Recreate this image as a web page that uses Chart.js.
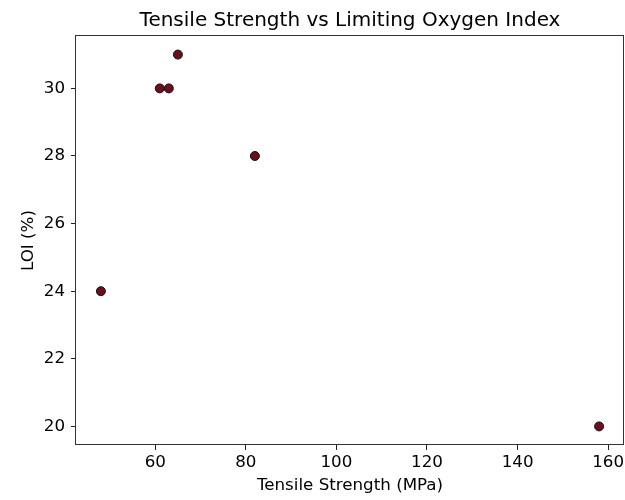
<!DOCTYPE html>
<html>
<head>
<meta charset="utf-8">
<script src="https://cdn.jsdelivr.net/npm/chart.js@4/dist/chart.umd.min.js"></script>
<style>
  html, body { margin: 0; padding: 0; background: #fff; }
  #wrap { width: 625px; height: 500px; position: relative; }
</style>
</head>
<body>
<div id="wrap"><canvas id="c" width="625" height="500"></canvas></div>
<script>
const tensileStrength = [48, 61, 63, 65, 82, 158];
const loiValues = [24, 30, 30, 31, 28, 20];
const xTicks = [60, 80, 100, 120, 140, 160];
const yTicks = [20, 22, 24, 26, 28, 30];

const points = tensileStrength.map((x, i) => ({ x: x, y: loiValues[i] }));

const FONT = "'DejaVu Sans', sans-serif";

const frame = {
  id: 'frame',
  afterDatasetsDraw(chart) {
    const a = chart.chartArea, ctx = chart.ctx;
    ctx.save();
    ctx.strokeStyle = '#333';
    ctx.lineWidth = 1;
    const l = Math.round(a.left) - 0.5, t = Math.round(a.top) - 0.5;
    const r = Math.round(a.right) - 0.5, b = Math.round(a.bottom) - 0.5;
    ctx.strokeRect(l, t, r - l, b - t);
    ctx.restore();
  }
};

new Chart(document.getElementById('c'), {
  type: 'scatter',
  data: {
    datasets: [{
      data: points,
      backgroundColor: '#6b0f1c',
      borderColor: '#111',
      borderWidth: 1,
      pointRadius: 4.5,
      pointHoverRadius: 4.5
    }]
  },
  options: {
    responsive: false,
    animation: false,
    events: [],
    layout: { autoPadding: false, padding: { left: 0, right: 1, top: 0, bottom: 0 } },
    plugins: {
      legend: { display: false },
      tooltip: { enabled: false },
      title: {
        display: true,
        fullSize: false,
        text: 'Tensile Strength vs Limiting Oxygen Index',
        color: '#000',
        font: { family: FONT, size: 20, weight: 'normal', lineHeight: 1.2 },
        padding: { top: 9, bottom: 3 }
      }
    },
    scales: {
      x: {
        type: 'linear',
        min: 42.5,
        max: 163.5,
        afterBuildTicks: s => { s.ticks = xTicks.map(v => ({ value: v })); },
        afterFit: s => { s.height = 55; s.paddingLeft = 0; s.paddingRight = 0; },
        grid: { display: true, drawOnChartArea: false, drawTicks: true, tickLength: 5, color: '#222' },
        border: { display: false },
        ticks: { color: '#000', font: { family: FONT, size: 16.7 }, padding: 3, maxRotation: 0 },
        title: { display: true, text: 'Tensile Strength (MPa)', color: '#000',
                 font: { family: FONT, size: 16.7 }, padding: { top: 2, bottom: 4 } }
      },
      y: {
        type: 'linear',
        min: 19.45,
        max: 31.55,
        afterBuildTicks: s => { s.ticks = yTicks.map(v => ({ value: v })); },
        afterFit: s => { s.width = 76; s.paddingTop = 0; s.paddingBottom = 0; },
        grid: { display: true, drawOnChartArea: false, drawTicks: true, tickLength: 5, color: '#222' },
        border: { display: false },
        ticks: { color: '#000', font: { family: FONT, size: 16.7 }, padding: 6 },
        title: { display: true, text: 'LOI (%)', color: '#000',
                 font: { family: FONT, size: 16.7 }, padding: { top: 19, bottom: 4 } }
      }
    }
  },
  plugins: [frame]
});
</script>
</body>
</html>
